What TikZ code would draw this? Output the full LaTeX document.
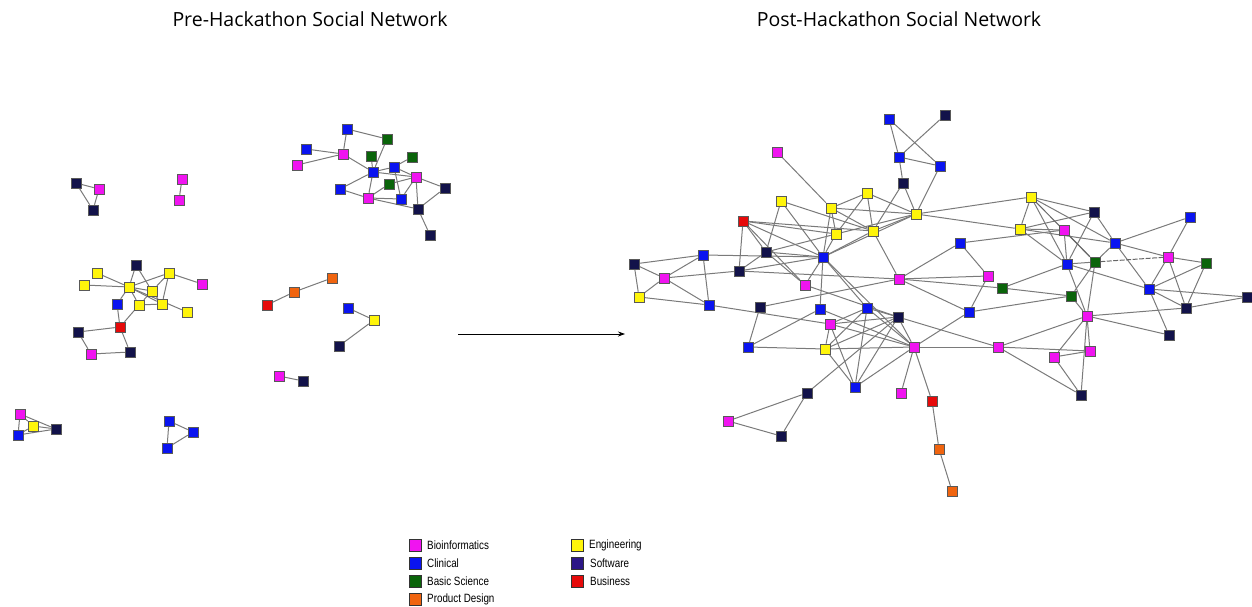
\documentclass[tikz,border=0pt]{standalone}
\usepackage{fontspec}
\setmainfont{Open Sans}
\newfontfamily\legfont[FakeStretch=0.82]{Liberation Sans}
\usetikzlibrary{arrows.meta,backgrounds}
\definecolor{cbio}{HTML}{F014F0}
\definecolor{ccli}{HTML}{0A14F0}
\definecolor{cbas}{HTML}{0A640A}
\definecolor{cpro}{HTML}{F0640F}
\definecolor{ceng}{HTML}{FFF50A}
\definecolor{csof}{HTML}{12124A}
\definecolor{cbus}{HTML}{E60A0A}
\definecolor{clegsof}{HTML}{2C1686}
\definecolor{cedge}{HTML}{7A7A7A}
\tikzset{
  nd/.style={rectangle, draw=black!65, line width=0.5pt, minimum size=10pt, inner sep=0pt},
  bio/.style={nd, fill=cbio},
  cli/.style={nd, fill=ccli},
  bas/.style={nd, fill=cbas},
  pro/.style={nd, fill=cpro},
  eng/.style={nd, fill=ceng},
  sof/.style={nd, fill=csof},
  bus/.style={nd, fill=cbus},
  edge/.style={draw=cedge, line width=1pt},
  darkedge/.style={draw=black!60, line width=1pt, dash pattern=on 5pt off 1.5pt},
  legbox/.style={rectangle, draw=black!80, line width=0.5pt, minimum size=11.5pt, inner sep=0pt},
  legtext/.style={anchor=west, inner sep=0pt, font=\legfont\fontsize{12}{12}\selectfont},
  title/.style={font=\fontsize{19.5}{22}\selectfont, inner sep=0pt}
}
\begin{document}
\begin{tikzpicture}[x=1pt,y=-1pt]
\useasboundingbox (0,0) rectangle (1252,607);
\node[title] (t1) at (310,19) {Pre-Hackathon Social Network};
\node[title] (t2) at (899,19) {Post-Hackathon Social Network};

% ---------- Pre-hackathon ----------
\node[sof] (pa1) at (76,183) {};
\node[bio] (pa2) at (99,189) {};
\node[sof] (pa3) at (93,210) {};
\node[bio] (pb1) at (182,179) {};
\node[bio] (pb2) at (179,200) {};
\node[sof] (pc1) at (136,265) {};
\node[eng] (pc2) at (97,273) {};
\node[eng] (pc3) at (84,285) {};
\node[eng] (pc4) at (129,287) {};
\node[eng] (pc5) at (169,273) {};
\node[bio] (pc6) at (202,284) {};
\node[eng] (pc7) at (152,291) {};
\node[cli] (pc8) at (117,304) {};
\node[eng] (pc9) at (139,305) {};
\node[eng] (pc10) at (162,304) {};
\node[eng] (pc11) at (187,312) {};
\node[bus] (pc12) at (120,327) {};
\node[sof] (pc13) at (78,332) {};
\node[bio] (pc14) at (91,354) {};
\node[sof] (pc15) at (130,352) {};
\node[cli] (pd1) at (347,129) {};
\node[bas] (pd2) at (387,139) {};
\node[cli] (pd3) at (306,149) {};
\node[bio] (pd4) at (343,154) {};
\node[bio] (pd5) at (297,165) {};
\node[bas] (pd6) at (371,156) {};
\node[bas] (pd7) at (412,157) {};
\node[cli] (pd8) at (394,167) {};
\node[cli] (pd9) at (373,172) {};
\node[bio] (pd10) at (416,177) {};
\node[bas] (pd11) at (389,184) {};
\node[cli] (pd12) at (340,189) {};
\node[sof] (pd13) at (445,188) {};
\node[bio] (pd14) at (368,198) {};
\node[cli] (pd15) at (401,199) {};
\node[sof] (pd16) at (418,209) {};
\node[sof] (pd17) at (430,235) {};
\node[bus] (pe1) at (267,305) {};
\node[pro] (pe2) at (294,292) {};
\node[pro] (pe3) at (332,278) {};
\node[cli] (pf1) at (348,308) {};
\node[eng] (pf2) at (374,320) {};
\node[sof] (pf3) at (339,346) {};
\node[bio] (pg1) at (279,376) {};
\node[sof] (pg2) at (303,381) {};
\node[bio] (ph1) at (20,414) {};
\node[eng] (ph2) at (33,426) {};
\node[cli] (ph3) at (18,435) {};
\node[sof] (ph4) at (56,429) {};
\node[cli] (pi1) at (169,421) {};
\node[cli] (pi2) at (193,432) {};
\node[cli] (pi3) at (167,448) {};

% ---------- Post-hackathon ----------
\node[bio] (qa1) at (777,152) {};
\node[cli] (qb1) at (889,119) {};
\node[sof] (qs1) at (945,115) {};
\node[cli] (qb2) at (899,157) {};
\node[cli] (qb3) at (940,166) {};
\node[sof] (qs2) at (903,183) {};
\node[eng] (qy1) at (781,201) {};
\node[eng] (qy2) at (867,193) {};
\node[eng] (qy3) at (831,208) {};
\node[eng] (qy4) at (916,214) {};
\node[bus] (qr1) at (743,221) {};
\node[eng] (qy5) at (836,234) {};
\node[eng] (qy6) at (873,231) {};
\node[sof] (qs3) at (766,252) {};
\node[cli] (qb4) at (823,257) {};
\node[sof] (qs4) at (634,264) {};
\node[cli] (qb5) at (703,255) {};
\node[bio] (qm2) at (664,278) {};
\node[sof] (qs5) at (739,271) {};
\node[bio] (qm3) at (805,285) {};
\node[bio] (qm4) at (899,279) {};
\node[eng] (qy7) at (639,297) {};
\node[cli] (qb6) at (709,305) {};
\node[sof] (qs6) at (760,307) {};
\node[cli] (qb7) at (820,309) {};
\node[cli] (qb8) at (867,308) {};
\node[sof] (qs7) at (898,317) {};
\node[bio] (qm5) at (830,324) {};
\node[cli] (qb9) at (748,347) {};
\node[eng] (qy8) at (825,349) {};
\node[bio] (qm6) at (914,347) {};
\node[cli] (qb10) at (855,387) {};
\node[bio] (qm7) at (901,393) {};
\node[sof] (qs8) at (807,393) {};
\node[bus] (qr2) at (932,401) {};
\node[bio] (qm8) at (728,421) {};
\node[sof] (qs9) at (781,436) {};
\node[pro] (qo1) at (939,449) {};
\node[pro] (qo2) at (952,491) {};
\node[cli] (qb11) at (960,243) {};
\node[bio] (qm9) at (988,276) {};
\node[bas] (qg1) at (1002,288) {};
\node[cli] (qb12) at (969,312) {};
\node[eng] (qy9) at (1031,197) {};
\node[eng] (qy10) at (1020,229) {};
\node[sof] (qs10) at (1094,212) {};
\node[bio] (qm10) at (1064,230) {};
\node[cli] (qb13) at (1115,243) {};
\node[cli] (qb14) at (1190,217) {};
\node[cli] (qb15) at (1067,264) {};
\node[bas] (qg2) at (1095,262) {};
\node[bio] (qm11) at (1168,257) {};
\node[bas] (qg3) at (1206,263) {};
\node[bas] (qg4) at (1071,296) {};
\node[cli] (qb16) at (1149,289) {};
\node[sof] (qs11) at (1186,308) {};
\node[sof] (qs12) at (1247,297) {};
\node[bio] (qm12) at (1087,316) {};
\node[sof] (qs13) at (1169,335) {};
\node[bio] (qm13) at (998,347) {};
\node[bio] (qm14) at (1054,357) {};
\node[bio] (qm15) at (1090,351) {};
\node[sof] (qs14) at (1081,395) {};

\begin{scope}[on background layer]
\foreach \a/\b in {pa1/pa2,pa1/pa3,pa2/pa3,pb1/pb2,
  pc2/pc4,pc3/pc4,pc1/pc4,pc1/pc7,pc5/pc4,pc5/pc7,pc5/pc10,pc5/pc6,pc4/pc7,pc4/pc8,pc4/pc9,pc4/pc10,pc4/pc11,pc7/pc9,pc7/pc10,pc9/pc10,pc9/pc12,pc8/pc12,pc12/pc13,pc12/pc15,pc13/pc14,pc14/pc15,
  pd1/pd2,pd1/pd4,pd3/pd4,pd5/pd4,pd4/pd9,pd2/pd9,pd6/pd9,pd7/pd8,pd8/pd9,pd8/pd10,pd8/pd15,pd9/pd10,pd9/pd12,pd9/pd14,pd10/pd11,pd10/pd13,pd10/pd15,pd10/pd16,pd12/pd14,pd14/pd15,pd14/pd16,pd14/pd11,pd13/pd16,pd16/pd17,
  pe1/pe2,pe2/pe3,pf1/pf2,pf2/pf3,pg1/pg2,
  ph1/ph3,ph1/ph2,ph1/ph4,ph2/ph4,ph3/ph4,ph3/ph2,pi1/pi2,pi2/pi3,pi1/pi3}
  \draw[edge] (\a) -- (\b);
\foreach \a/\b in {qa1/qy3,qb1/qb2,qb1/qb3,qs1/qb2,qb2/qb3,qb2/qs2,qs2/qy4,qs2/qy6,qb3/qy4,
  qy1/qs3,qy1/qb4,qy1/qy6,qy3/qy2,qy3/qy4,qy3/qy5,qy3/qb4,qy3/qy6,qy2/qy5,qy2/qy6,qy2/qy4,qy4/qy6,qy4/qy5,qy4/qb4,qy6/qb4,qy6/qm4,qy5/qb4,
  qr1/qs5,qr1/qs3,qr1/qb4,qr1/qy5,qr1/qy6,qr1/qm3,
  qs3/qy5,qs3/qb4,qs3/qs5,qs3/qm3,
  qb4/qb5,qb4/qs5,qb4/qm3,qb4/qb7,qb4/qb8,qb4/qm6,
  qs4/qb5,qs4/qm2,qs4/qy7,qy7/qm2,qy7/qb6,qm2/qb5,qm2/qb6,qb5/qb6,qm2/qs5,qs5/qm4,
  qb6/qm5,qs6/qm4,qs6/qb9,qb9/qb7,qb9/qy8,qm3/qs7,
  qb7/qm6,qb8/qm5,qb8/qy8,qb8/qb10,qb8/qs7,qb8/qm6,qs7/qm5,qs7/qy8,qs7/qb10,qs7/qm6,qs7/qm13,qm5/qy8,qm5/qb10,qm5/qm6,qy8/qb10,qy8/qm6,qb10/qm6,
  qs8/qs7,qm8/qs8,qm8/qs9,qs9/qs8,qm6/qm7,qm6/qr2,qr2/qo1,qo1/qo2,
  qm6/qb12,qm6/qm13,qm13/qm15,qm13/qm12,qm13/qs14,qm12/qm14,qm12/qm15,qm12/qs14,qm14/qs14,qm14/qm15,
  qb12/qg4,qb12/qm9,qm4/qb11,qm4/qm9,qm4/qb12,qm4/qg1,qb11/qm10,qb11/qm9,qg1/qg4,qg1/qb15,
  qy4/qy9,qy4/qy10,qy9/qy10,qy9/qs10,qy9/qb15,qy9/qb13,qy10/qm10,qy10/qs10,qy10/qb13,qy10/qb15,
  qm10/qb15,qm10/qg2,qs10/qb15,qs10/qb13,qb13/qb14,qb13/qm11,qb13/qb16,qb13/qg2,qb14/qm11,
  qm11/qg3,qm11/qb16,qm11/qs11,qg3/qb16,qg3/qs11,qb16/qs12,qb16/qs11,qb16/qs13,qb15/qb16,
  qs11/qs12,qs11/qm12,qm12/qs13,qb15/qm12,qg2/qm12,qg4/qm12,qg2/qg4,qb15/qg2}
  \draw[edge] (\a) -- (\b);
\draw[edge, draw=black!60] (qy9) -- (qg2);
\draw[darkedge] (qg2) -- (qm11);
\end{scope}

% ---------- arrow ----------
\coordinate (arS) at (458,334);
\coordinate (arE) at (625,334);
\draw[line width=0.8pt, -{Stealth[length=7pt,width=5pt]}] (arS) -- (arE);

% ---------- legend ----------
\node[legbox, fill=cbio] (l1) at (415,545) {};
\node[legtext] (l1t) at (427,545) {Bioinformatics};
\node[legbox, fill=ccli] (l2) at (415,563) {};
\node[legtext] (l2t) at (427,563) {Clinical};
\node[legbox, fill=cbas] (l3) at (415,581) {};
\node[legtext] (l3t) at (427,581) {Basic Science};
\node[legbox, fill=cpro] (l4) at (415,599) {};
\node[legtext] (l4t) at (427,599) {Product Design};
\node[legbox, fill=ceng] (l5) at (577,545) {};
\node[legtext] (l5t) at (589,545) {Engineering};
\node[legbox, fill=clegsof] (l6) at (577,563) {};
\node[legtext] (l6t) at (590,563) {Software};
\node[legbox, fill=cbus] (l7) at (577,581) {};
\node[legtext] (l7t) at (590,581) {Business};
\end{tikzpicture}
\end{document}
